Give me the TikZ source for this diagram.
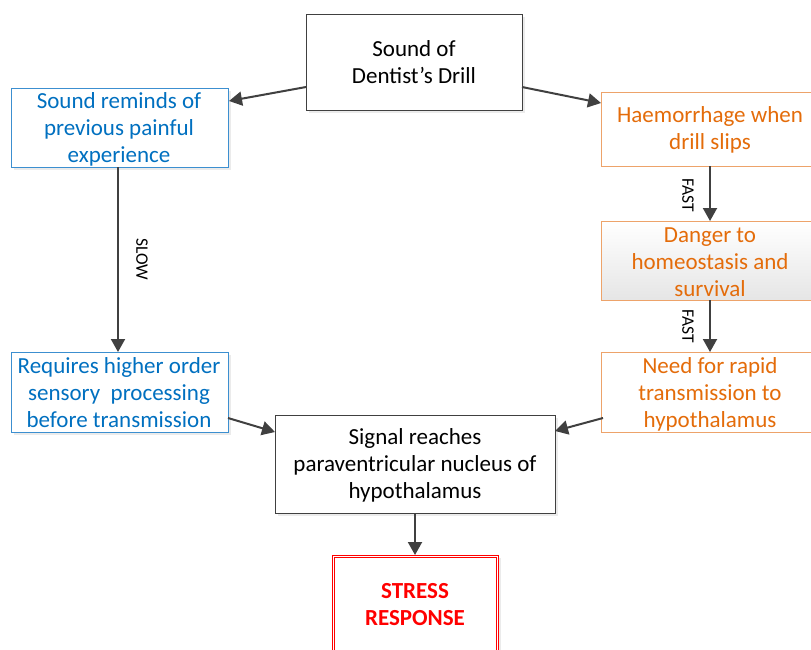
\documentclass[tikz,border=0pt]{standalone}
\usepackage{fontspec}
\setmainfont{Carlito}
\usetikzlibrary{arrows.meta}
\definecolor{cblue}{HTML}{0070C0}
\definecolor{cblueb}{HTML}{3C8FD0}
\definecolor{corange}{HTML}{E46C0A}
\definecolor{coranb}{HTML}{EDA36A}
\definecolor{carrow}{HTML}{404040}
\tikzset{
  boxtext/.style={align=center,font=\fontsize{23}{27}\selectfont},
  arr/.style={draw=carrow,line width=2pt,-{Triangle[length=13pt,width=14pt]}},
  lab/.style={font=\fontsize{17.5}{19}\selectfont,rotate=-90,text=black},
}
\begin{document}
\begin{tikzpicture}[x=1pt,y=-1pt]
\useasboundingbox (0,0) rectangle (811,649);
% shadows
\fill[black!8] (309,17) rectangle (525,113);
\fill[black!8] (14,91) rectangle (231,170);
\fill[black!8] (14,355) rectangle (231,435);
\fill[black!8] (278,418) rectangle (558,516);
\fill[black!8] (335,558) rectangle (501,652);
% boxes
\draw[carrow,fill=white,line width=0.8pt] (306,14) rectangle (522,110);
\node[boxtext] (top) at (414,62) {Sound of\\Dentist’s Drill};
\coordinate (topL) at (306,87);
\coordinate (topR) at (522,87);

\draw[cblueb,fill=white,line width=0.8pt] (11,88) rectangle (228,167);
\node[boxtext,text=cblue] (lt) at (119,129) {Sound reminds of\\previous painful\\experience};
\coordinate (ltR) at (229,101);
\coordinate (ltB) at (118,167);

\draw[cblueb,fill=white,line width=0.8pt] (11,352) rectangle (228,432);
\node[boxtext,text=cblue] (lb) at (119,393) {Requires higher order\\sensory\ \ processing\\before transmission};
\coordinate (lbT) at (118,352);
\coordinate (lbR) at (228,418);

\draw[coranb,fill=white,line width=0.8pt] (601,92) rectangle (815,166);
\node[boxtext,text=corange] (rt) at (710,130) {Haemorrhage when\\drill slips};
\coordinate (rtL) at (601,103);
\coordinate (rtB) at (710,166);

\shade[top color=white,bottom color=black!10] (601,221) rectangle (815,300);
\draw[coranb,line width=0.8pt] (601,221) rectangle (815,300);
\node[boxtext,text=corange] (rm) at (710,262) {Danger to\\homeostasis and\\survival};
\coordinate (rmT) at (710,221);
\coordinate (rmB) at (710,300);

\draw[coranb,fill=white,line width=0.8pt] (601,352) rectangle (815,432);
\node[boxtext,text=corange] (rb) at (710,394) {Need for rapid\\transmission to\\hypothalamus};
\coordinate (rbT) at (710,352);
\coordinate (rbL) at (603,418);

\draw[carrow,fill=white,line width=0.8pt] (275,415) rectangle (555,513);
\node[boxtext] (sig) at (415,465) {Signal reaches\\paraventricular nucleus of\\hypothalamus};
\coordinate (sigL) at (275,432);
\coordinate (sigR) at (555,431);
\coordinate (sigB) at (415,513);

\draw[red,fill=white,line width=0.9pt] (332,555) rectangle (498,652);
\draw[red,line width=0.5pt] (334,557) rectangle (496,652);
\node[boxtext,text=red,font=\bfseries\fontsize{23}{27}\selectfont] (st) at (415,605) {STRESS\\RESPONSE};
\coordinate (stT) at (415,555);

% connectors
\draw[arr] (topL) -- (ltR);
\draw[arr] (topR) -- (rtL);
\draw[arr] (ltB) -- (lbT);
\draw[arr] (rtB) -- (rmT);
\draw[arr] (rmB) -- (rbT);
\draw[arr] (lbR) -- (sigL);
\draw[arr] (rbL) -- (sigR);
\draw[arr] (sigB) -- (stT);

\node[lab] (slow) at (142,259) {SLOW};
\node[lab] (f1) at (688,195) {FAST};
\node[lab] (f2) at (688,326) {FAST};
\end{tikzpicture}
\end{document}
